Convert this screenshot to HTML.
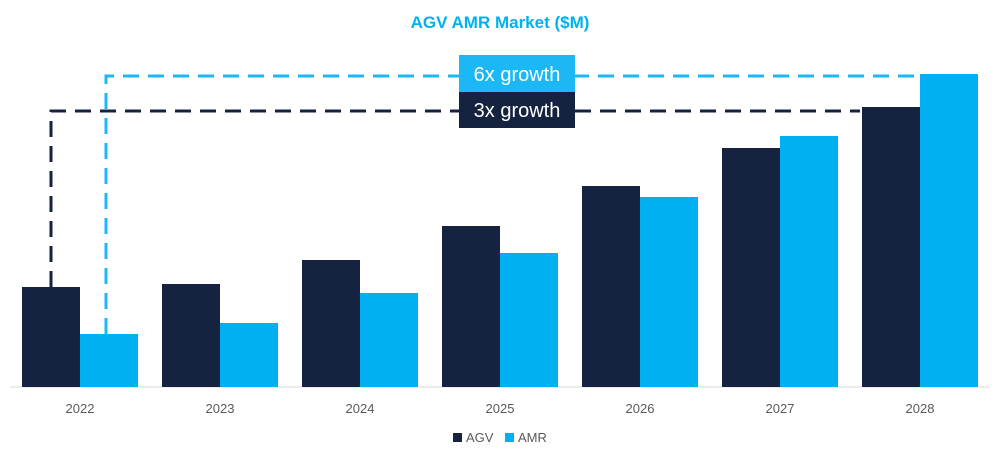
<!DOCTYPE html>
<html><head><meta charset="utf-8"><style>
body{margin:0;background:#fff;font-family:"Liberation Sans",sans-serif}
</style></head><body>
<svg id="chart" width="1000" height="461">
<text x="500" y="28" text-anchor="middle" font-size="17" font-weight="bold" fill="#00b0f0">AGV AMR Market ($M)</text>
<line x1="10" y1="387" x2="990" y2="387" stroke="#d9d9d9" stroke-width="1"/>
<g id="bars"></g>
<g id="lines"></g>
<g id="labels"></g>
<g>
<rect x="453" y="433" width="9" height="9" fill="#152340"/>
<text x="466" y="442" font-size="13" fill="#595959">AGV</text>
<rect x="505" y="433" width="9" height="9" fill="#00b0f0"/>
<text x="518" y="442" font-size="13" fill="#595959">AMR</text>
</g>
<g>
<rect x="459" y="55" width="116" height="37" fill="#1cb8f5"/>
<text x="517" y="81" text-anchor="middle" font-size="20" fill="#fff">6x growth</text>
<rect x="459" y="92" width="116" height="36" fill="#152340"/>
<text x="517" y="117" text-anchor="middle" font-size="20" fill="#fff">3x growth</text>
</g>
</svg>
<script>
const categories=["2022","2023","2024","2025","2026","2027","2028"];
const agv=[100,103,127,161,201,239,280];
const amr=[53,64,94,134,190,251,313];
const baseY=387, bandW=140, x0=10, barW=58;
function xCenter(i){return x0+bandW*i+70;}
function yScale(v){return baseY-v;}
const NS="http://www.w3.org/2000/svg";
const bars=document.getElementById('bars'), labels=document.getElementById('labels'), lines=document.getElementById('lines');
function mk(t,a,p){const e=document.createElementNS(NS,t);for(const k in a)e.setAttribute(k,a[k]);p.appendChild(e);return e;}
categories.forEach((c,i)=>{
 const cx=xCenter(i);
 const a=mk('rect',{x:cx-barW,y:yScale(agv[i]),width:barW,height:agv[i],fill:'#152340'},bars);
 
 
 const b=mk('rect',{x:cx,y:yScale(amr[i]),width:barW,height:amr[i],fill:'#00b0f0'},bars);
 
 
 const t=mk('text',{x:cx,y:413,'text-anchor':'middle','font-size':'13',fill:'#595959'},labels);
 t.textContent=c;
 
 
});
const n=categories.length-1;
const yA=yScale(agv[n])+4, yM=yScale(amr[n])+2;
const xa=xCenter(0)-barW/2, xm=xCenter(0)+barW/2-3;
const p1=mk('path',{d:`M${xa},${yScale(agv[0])} V${yA} H${xCenter(n)-barW-2}`,fill:'none',stroke:'#152340','stroke-width':3,'stroke-dasharray':'16,9'},lines);


const p2=mk('path',{d:`M${xm},${yScale(amr[0])} V${yM} H${xCenter(n)-2}`,fill:'none',stroke:'#1cb8f5','stroke-width':3,'stroke-dasharray':'16,9'},lines);


</script>
</body></html>
